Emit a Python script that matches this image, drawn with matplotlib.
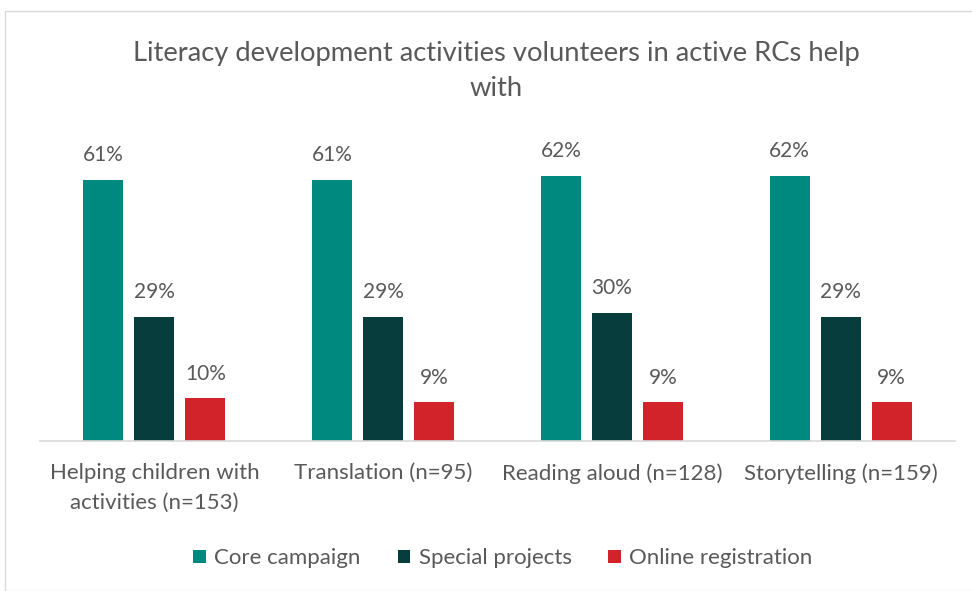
import matplotlib
matplotlib.use("Agg")
import matplotlib.pyplot as plt
from matplotlib.patches import Rectangle
import numpy as np

categories = ["Helping children with\nactivities (n=153)", "Translation (n=95)",
              "Reading aloud (n=128)", "Storytelling (n=159)"]
series_names = ["Core campaign", "Special projects", "Online registration"]
core = [61, 61, 62, 62]
special = [29, 29, 30, 29]
online = [10, 9, 9, 9]
colors = ["#00897E", "#073D3D", "#D3232A"]

plt.rcParams['font.family'] = ['Lato', 'DejaVu Sans']
txt = "#595959"

fig = plt.figure(figsize=(9.72, 5.91), dpi=100)
fig.patches.append(Rectangle((5/972, 0), 1.0, 1 - 11/591, transform=fig.transFigure,
                             fill=False, edgecolor="#D9D9D9", linewidth=1))
ax = fig.add_axes([40/972, 1 - 441/591, 915/972, (441 - 141.4)/591])

x = np.arange(len(categories))
w = 0.175
step = 0.223
for i, (vals, name) in enumerate(zip([core, special, online], series_names)):
    pos = x + (i - 1) * step
    ax.bar(pos, vals, width=w, color=colors[i], label=name)
    for p, v in zip(pos, vals):
        ax.text(p, v + 3.4, f"{v}%", ha="center", va="bottom", fontsize=15, color=txt)

ax.set_xlim(-0.5, 3.5)
ax.set_ylim(0, 70)
ax.set_yticks([])
ax.set_xticks(x)
ax.set_xticklabels(categories, fontsize=16, color=txt, linespacing=1.6)
ax.tick_params(axis="x", length=0, pad=16)
for s in ["top", "right", "left"]:
    ax.spines[s].set_visible(False)
ax.spines["bottom"].set_color("#D9D9D9")
ax.spines["bottom"].set_linewidth(1.2)

fig.text(496/972, 1 - 71/591, "Literacy development activities volunteers in active RCs help\nwith",
         ha="center", va="center", fontsize=19.7, color=txt, linespacing=1.5)

leg = fig.legend(loc="center", bbox_to_anchor=(503/972, 1 - 558.5/591), ncol=3, frameon=False,
                 fontsize=16, handlelength=0.55, handleheight=0.55, handletextpad=0.4,
                 columnspacing=1.65)
for t in leg.get_texts():
    t.set_color(txt)

fig.savefig("out.png", dpi=100)
